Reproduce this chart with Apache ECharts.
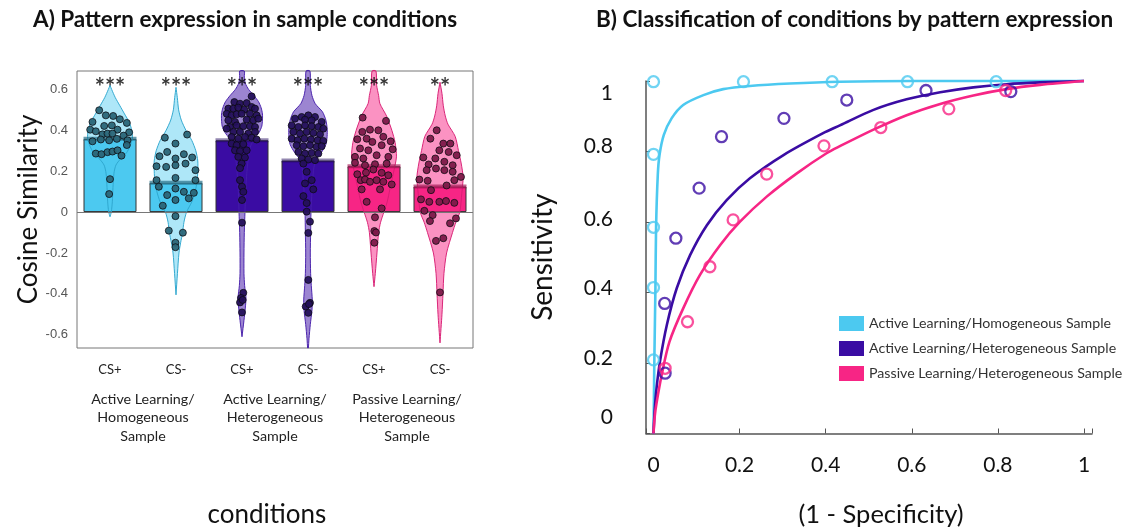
<!DOCTYPE html>
<html>
<head>
<meta charset="utf-8">
<script src="https://cdn.jsdelivr.net/npm/echarts@6/dist/echarts.min.js"></script>
<style>html,body{margin:0;padding:0;background:#fff;}#c{width:1137px;height:528px;}</style>
</head>
<body>
<div id="c"></div>
<script>
// ---------- Panel A data ----------
var conditionLabels = ['CS+', 'CS-', 'CS+', 'CS-', 'CS+', 'CS-'];
var groupLabels = ['Active Learning/\nHomogeneous\nSample', 'Active Learning/\nHeterogeneous\nSample', 'Passive Learning/\nHeterogeneous\nSample'];
var meanSimilarity = [0.358, 0.143, 0.351, 0.252, 0.224, 0.125];
var starLabels = ['***', '***', '***', '***', '***', '**'];
var yTickLabels = ['-0.6', '-0.4', '-0.2', '0', '0.2', '0.4', '0.6'];

// violin outlines: [cosine similarity, half width in category units]
var violin1 = [[0.62,0],[0.60,0.025],[0.56,0.08],[0.52,0.15],[0.48,0.22],[0.44,0.29],[0.40,0.33],[0.36,0.34],[0.32,0.30],[0.29,0.25],[0.26,0.16],[0.23,0.09],[0.19,0.06],[0.12,0.045],[0.05,0.035],[0,0.02],[-0.023,0]];
var violin2 = [[0.61,0],[0.56,0.02],[0.50,0.04],[0.45,0.08],[0.40,0.15],[0.35,0.24],[0.30,0.30],[0.25,0.33],[0.20,0.33],[0.15,0.32],[0.10,0.29],[0.05,0.24],[0,0.16],[-0.05,0.12],[-0.1,0.1],[-0.15,0.07],[-0.2,0.045],[-0.3,0.022],[-0.405,0]];
var violin3 = [[0.69,0.035],[0.66,0.035],[0.63,0.05],[0.60,0.10],[0.57,0.18],[0.54,0.25],[0.51,0.29],[0.48,0.31],[0.45,0.31],[0.42,0.30],[0.39,0.26],[0.36,0.19],[0.33,0.14],[0.30,0.11],[0.25,0.09],[0.20,0.075],[0.15,0.065],[0.10,0.055],[0.05,0.05],[0,0.045],[-0.1,0.035],[-0.2,0.03],[-0.3,0.03],[-0.36,0.04],[-0.42,0.06],[-0.47,0.05],[-0.53,0.03],[-0.61,0]];
var violin4 = [[0.69,0.03],[0.62,0.035],[0.57,0.06],[0.53,0.11],[0.49,0.22],[0.45,0.27],[0.41,0.29],[0.37,0.29],[0.33,0.27],[0.29,0.2],[0.26,0.13],[0.22,0.09],[0.15,0.07],[0.1,0.06],[0,0.045],[-0.1,0.04],[-0.2,0.035],[-0.3,0.04],[-0.36,0.05],[-0.43,0.065],[-0.48,0.06],[-0.55,0.035],[-0.62,0.015],[-0.665,0.005]];
var violin5 = [[0.69,0.03],[0.62,0.04],[0.57,0.07],[0.53,0.09],[0.47,0.19],[0.40,0.27],[0.34,0.32],[0.27,0.34],[0.20,0.30],[0.11,0.24],[0.05,0.2],[0,0.15],[-0.05,0.1],[-0.1,0.07],[-0.2,0.045],[-0.3,0.02],[-0.365,0]];
var violin6 = [[0.635,0],[0.58,0.03],[0.52,0.05],[0.47,0.08],[0.43,0.12],[0.37,0.23],[0.30,0.28],[0.24,0.32],[0.17,0.35],[0.09,0.33],[0,0.3],[-0.05,0.24],[-0.1,0.19],[-0.2,0.1],[-0.3,0.06],[-0.4,0.045],[-0.5,0.03],[-0.64,0]];

// individual subjects: [jitter offset in category units, cosine similarity]
var subjects1 = [[-0.164,0.498],[-0.265,0.441],[-0.063,0.473],[0.048,0.470],[0.149,0.454],[0.255,0.436],[-0.30,0.403],[-0.215,0.395],[-0.088,0.421],[0.028,0.424],[0.114,0.403],[0.29,0.390],[-0.114,0.380],[-0.038,0.384],[0.038,0.384],[0.205,0.374],[-0.265,0.346],[-0.139,0.355],[-0.013,0.351],[0.104,0.358],[0.265,0.351],[0.255,0.328],[-0.215,0.286],[-0.129,0.283],[-0.038,0.293],[0.038,0.296],[0.114,0.302],[0.174,0.276],[0.0,0.161],[-0.013,0.088]];
var subjects2 = [[-0.169,0.364],[0.169,0.379],[-0.008,0.335],[-0.134,0.294],[0.119,0.283],[0.245,0.267],[-0.25,0.273],[-0.295,0.224],[-0.149,0.221],[-0.008,0.229],[-0.008,0.262],[0.144,0.237],[0.295,0.205],[-0.295,0.156],[-0.008,0.167],[0.295,0.156],[-0.26,0.124],[-0.008,0.115],[0.119,0.099],[0.27,0.094],[-0.134,0.083],[-0.008,0.059],[0.194,0.067],[-0.2,0.031],[-0.008,-0.020],[-0.109,-0.091],[0.104,-0.101],[-0.008,-0.150],[-0.008,-0.172]];
var subjects3 = [[0.146,0.566],[-0.116,0.538],[-0.03,0.530],[0.071,0.533],[-0.207,0.506],[-0.131,0.506],[-0.056,0.511],[0.035,0.501],[0.146,0.514],[0.197,0.506],[-0.232,0.481],[-0.157,0.473],[-0.081,0.478],[-0.005,0.481],[0.121,0.481],[0.222,0.473],[-0.207,0.449],[-0.106,0.441],[0.071,0.452],[0.172,0.449],[0.247,0.457],[-0.182,0.416],[-0.081,0.424],[0.02,0.420],[0.121,0.420],[0.197,0.416],[-0.232,0.408],[-0.131,0.392],[-0.03,0.392],[0.096,0.384],[0.197,0.392],[-0.157,0.367],[-0.056,0.359],[0.045,0.367],[0.146,0.364],[0.222,0.355],[-0.157,0.335],[-0.081,0.327],[0.02,0.332],[-0.106,0.302],[-0.03,0.298],[0.071,0.302],[-0.056,0.270],[0.045,0.267],[-0.005,0.237],[-0.03,0.215],[-0.03,0.156],[0,0.124],[0.02,0.099],[0,0.059],[0,-0.052],[0.02,-0.395],[-0.015,-0.42],[-0.03,-0.442],[0.01,-0.43],[0,-0.491]];
var subjects4 = [[-0.197,0.457],[-0.096,0.465],[0.005,0.473],[0.106,0.465],[-0.045,0.452],[0.056,0.449],[0.207,0.441],[-0.247,0.424],[-0.146,0.416],[-0.045,0.424],[0.056,0.420],[0.157,0.416],[0.232,0.408],[-0.222,0.392],[-0.121,0.384],[-0.02,0.392],[0.081,0.387],[0.182,0.380],[-0.247,0.359],[-0.157,0.351],[-0.056,0.359],[0.045,0.355],[0.146,0.351],[0.232,0.348],[-0.172,0.327],[-0.071,0.322],[0.03,0.327],[0.131,0.319],[0.207,0.322],[-0.146,0.294],[-0.045,0.286],[0.056,0.289],[0.157,0.286],[-0.096,0.262],[0.005,0.257],[0.106,0.254],[-0.07,0.237],[-0.02,0.197],[0.056,0.156],[-0.045,0.14],[0.08,0.111],[-0.07,0.078],[-0.02,0.044],[-0.02,0.002],[0.03,-0.047],[0.005,-0.102],[0.005,-0.332],[0.03,-0.444],[-0.035,-0.462],[0.015,-0.45],[0.005,-0.493]];
var subjects5 = [[-0.172,0.462],[0.182,0.446],[-0.177,0.392],[-0.061,0.403],[0.066,0.400],[-0.253,0.356],[-0.111,0.359],[-0.025,0.343],[0.141,0.368],[0.253,0.346],[-0.212,0.311],[-0.086,0.302],[0.116,0.327],[0.283,0.307],[-0.288,0.270],[-0.162,0.262],[0.040,0.278],[0.217,0.270],[-0.288,0.241],[-0.136,0.229],[0.015,0.234],[0.192,0.237],[-0.253,0.185],[-0.121,0.193],[-0.010,0.208],[0.116,0.192],[0.217,0.180],[-0.202,0.156],[-0.136,0.159],[-0.061,0.148],[0.040,0.156],[0.141,0.148],[0.268,0.135],[-0.187,0.111],[0.091,0.111],[-0.111,0.050],[0.116,0.018],[0.015,-0.026],[0.005,-0.093],[0.03,-0.1],[0.005,-0.150]];
var subjects6 = [[-0.05,0.400],[-0.146,0.359],[0.05,0.335],[0.157,0.335],[-0.01,0.302],[0.131,0.294],[0.253,0.278],[-0.253,0.267],[-0.071,0.262],[-0.172,0.233],[0.066,0.246],[0.192,0.229],[-0.061,0.213],[-0.202,0.205],[0.066,0.205],[0.192,0.197],[0.318,0.172],[-0.313,0.159],[-0.187,0.153],[0.217,0.156],[-0.136,0.107],[0.1,0.13],[-0.288,0.062],[-0.162,0.050],[-0.01,0.050],[0.091,0.054],[0.217,0.045],[-0.237,0.006],[-0.111,-0.015],[-0.152,-0.044],[0.242,-0.031],[0.152,-0.055],[-0.061,-0.141],[0.05,-0.128],[0,-0.393]];

// ---------- Panel B data ----------
var rocNames = ['Active Learning/Homogeneous Sample', 'Active Learning/Heterogeneous Sample', 'Passive Learning/Heterogeneous Sample'];
var xTickLabels = ['0', '0.2', '0.4', '0.6', '0.8', '1'];
var yTickLabelsRoc = ['0', '0.2', '0.4', '0.6', '0.8', '1'];
// observed operating points [1 - specificity, sensitivity]
var rocPointsHomActive = [[0,0.998],[0,0.792],[0,0.585],[0,0.414],[0,0.209],[0.209,0.998],[0.415,0.998],[0.590,0.998],[0.796,0.998]];
var rocPointsHetActive = [[0.027,0.171],[0.026,0.369],[0.052,0.554],[0.106,0.696],[0.158,0.842],[0.303,0.894],[0.449,0.946],[0.633,0.973],[0.830,0.970]];
var rocPointsHetPassive = [[0.027,0.185],[0.079,0.317],[0.131,0.473],[0.185,0.606],[0.263,0.736],[0.396,0.816],[0.528,0.868],[0.686,0.921],[0.818,0.973]];
// fitted curves
var rocFitHomActive = [[0,0],[0.001,0.1],[0.002,0.209],[0.0045,0.414],[0.006,0.585],[0.01,0.734],[0.014,0.79],[0.024,0.847],[0.042,0.894],[0.069,0.932],[0.116,0.960],[0.162,0.977],[0.224,0.986],[0.317,0.993],[0.433,0.998],[0.6,1.0],[1.0,1.0]];
var rocFitHetActive = [[0,0],[0.003,0.07],[0.007,0.128],[0.015,0.204],[0.031,0.308],[0.054,0.412],[0.085,0.506],[0.124,0.591],[0.170,0.662],[0.224,0.724],[0.302,0.790],[0.394,0.852],[0.433,0.874],[0.511,0.918],[0.588,0.948],[0.666,0.968],[0.743,0.982],[0.820,0.991],[0.898,0.996],[1.0,1.0]];
var rocFitHetPassive = [[0,0],[0.003,0.05],[0.007,0.086],[0.019,0.166],[0.037,0.26],[0.069,0.355],[0.108,0.45],[0.155,0.535],[0.201,0.601],[0.263,0.672],[0.333,0.738],[0.402,0.795],[0.433,0.815],[0.511,0.862],[0.588,0.903],[0.666,0.935],[0.743,0.959],[0.820,0.977],[0.898,0.989],[1.0,1.0]];

// ---------- styling ----------
var barColors = ['#4CC9F0', '#4CC9F0', '#3A0CA3', '#3A0CA3', '#F72585', '#F72585'];
var violinFill = ['rgba(76,201,240,0.45)', 'rgba(76,201,240,0.45)', 'rgba(58,12,163,0.5)', 'rgba(58,12,163,0.5)', 'rgba(247,37,133,0.5)', 'rgba(247,37,133,0.5)'];
var violinStroke = ['rgba(45,165,205,0.95)', 'rgba(45,165,205,0.95)', 'rgba(70,30,170,0.95)', 'rgba(70,30,170,0.95)', 'rgba(215,30,115,0.95)', 'rgba(215,30,115,0.95)'];
var meanBandColors = ['rgba(35,110,135,0.85)', 'rgba(35,110,135,0.85)', 'rgba(30,5,90,0.6)', 'rgba(30,5,90,0.6)', 'rgba(160,15,80,0.8)', 'rgba(160,15,80,0.8)'];
var dotColors = ['#2A6577', '#2A6577', '#24105A', '#24105A', '#7C1A49', '#7C1A49'];
var rocColors = ['#4CC9F0', '#3A0CA3', '#F72585'];
// label nudges (px, u = up, d = down) that mimic the original's offset tick labels
var rocYLabelShift = ['u16', 'u5', 'u4', 'u3', 'u5', 'd12'];

var violins = [violin1, violin2, violin3, violin4, violin5, violin6];
var subjects = [subjects1, subjects2, subjects3, subjects4, subjects5, subjects6];
var rocPoints = [rocPointsHomActive, rocPointsHetActive, rocPointsHetPassive];
var rocFits = [rocFitHomActive, rocFitHetActive, rocFitHetPassive];

var FONT = 'Lato, "Open Sans", sans-serif';

var rich = {};
[3, 4, 5, 12, 16].forEach(function (s) {
  rich['u' + s] = {fontFamily: FONT, fontSize: 21, color: '#111', padding: [0, 0, 2 * s, 0]};
  rich['d' + s] = {fontFamily: FONT, fontSize: 21, color: '#111', padding: [2 * s, 0, 0, 0]};
});

var chart = echarts.init(document.getElementById('c'), null, {renderer: 'canvas'});

var series = [];
series.push({
  type: 'bar', xAxisIndex: 0, yAxisIndex: 0, barWidth: 53, z: 2,
  data: meanSimilarity.map(function (v, i) { return {value: v, itemStyle: {color: barColors[i]}}; }),
  itemStyle: {borderColor: '#333', borderWidth: 1},
  markLine: {silent: true, symbol: 'none', label: {show: false}, lineStyle: {color: '#777', width: 1, type: 'solid'}, data: [{yAxis: 0}]},
  animation: false
});
series.push({
  type: 'custom', xAxisIndex: 2, yAxisIndex: 0, z: 3,
  data: violins.map(function (v, i) { return [i]; }),
  renderItem: function (params, api) {
    var i = api.value(0);
    var prof = violins[i];
    var pts = [];
    for (var k = 0; k < prof.length; k++) pts.push(api.coord([i - prof[k][1], prof[k][0]]));
    for (var k2 = prof.length - 1; k2 >= 0; k2--) pts.push(api.coord([i + prof[k2][1], prof[k2][0]]));
    return {type: 'polygon', shape: {points: pts, smooth: 0.25}, style: {fill: violinFill[i], stroke: violinStroke[i], lineWidth: 1}};
  },
  animation: false
});
series.push({
  type: 'scatter', xAxisIndex: 0, yAxisIndex: 0, z: 4, symbol: 'rect', symbolSize: [53, 4],
  data: meanSimilarity.map(function (v, i) { return {value: [i, v], itemStyle: {color: meanBandColors[i]}}; }),
  animation: false
});
subjects.forEach(function (arr, i) {
  series.push({
    type: 'scatter', xAxisIndex: 2, yAxisIndex: 0, z: 5, symbolSize: 7,
    data: arr.map(function (p) { return [i + p[0], p[1]]; }),
    itemStyle: {color: dotColors[i], borderColor: '#0b0b10', borderWidth: 0.8, opacity: 0.95},
    animation: false
  });
});
series.push({
  type: 'scatter', xAxisIndex: 0, yAxisIndex: 0, z: 6, symbolSize: 0,
  data: starLabels.map(function (s, i) { return {value: [i, 0.605], label: {formatter: s}}; }),
  label: {show: true, position: 'inside', color: '#000', fontSize: 24, fontWeight: 'bold', fontFamily: 'Lato'},
  animation: false
});
rocFits.forEach(function (arr, i) {
  series.push({
    name: rocNames[i], type: 'line', xAxisIndex: 3, yAxisIndex: 1, data: arr, showSymbol: false,
    smooth: 0.3, clip: false,
    lineStyle: {color: rocColors[i], width: 2.6}, itemStyle: {color: rocColors[i]}, animation: false, z: 3
  });
});
rocPoints.forEach(function (arr, i) {
  series.push({
    name: rocNames[i], type: 'scatter', xAxisIndex: 3, yAxisIndex: 1, data: arr, symbol: 'circle', symbolSize: 11, clip: false,
    itemStyle: {color: 'rgba(255,255,255,0)', borderColor: rocColors[i], borderWidth: 2.3}, animation: false, z: 4
  });
});

var option = {
  backgroundColor: '#fff',
  animation: false,
  title: [
    {text: 'A) Pattern expression in sample conditions', left: 33, top: 8, padding: 0,
     textStyle: {fontFamily: FONT, fontSize: 22.5, fontWeight: 'bold', color: '#111'}},
    {text: 'B) Classification of conditions by pattern expression', left: 596, top: 8, padding: 0,
     textStyle: {fontFamily: FONT, fontSize: 22.5, fontWeight: 'bold', color: '#111'}}
  ],
  legend: {
    orient: 'vertical', left: 839, top: 316, itemWidth: 25, itemHeight: 15, itemGap: 10, padding: 0,
    selectedMode: false,
    textStyle: {fontFamily: FONT, fontSize: 14.2, color: '#333'},
    data: rocNames.map(function (n, i) { return {name: n, icon: 'rect', itemStyle: {color: rocColors[i], borderWidth: 0}}; })
  },
  grid: [
    {left: 77, top: 71, width: 396, height: 277, show: true, borderColor: '#777', borderWidth: 1, backgroundColor: 'transparent',
     containLabel: false, outerBoundsMode: 'none'},
    {left: 646, top: 81, width: 446, height: 352.5, containLabel: false, outerBoundsMode: 'none'}
  ],
  xAxis: [
    {type: 'category', gridIndex: 0, data: conditionLabels, boundaryGap: true,
     axisLine: {show: false}, axisTick: {show: false},
     axisLabel: {margin: 15, interval: 0, fontFamily: FONT, fontSize: 13, color: '#222'}},
    {type: 'category', gridIndex: 0, data: groupLabels, boundaryGap: true, position: 'bottom',
     axisLine: {show: false}, axisTick: {show: false},
     axisLabel: {margin: 42, interval: 0, hideOverlap: false, fontFamily: FONT, fontSize: 14.3, color: '#222', lineHeight: 18.5, verticalAlign: 'top'},
     name: 'conditions', nameLocation: 'middle', nameGap: 154,
     nameTextStyle: {fontFamily: FONT, fontSize: 26, color: '#111', padding: [0, 16, 0, 0]}},
    {type: 'value', gridIndex: 0, min: -0.5, max: 5.5, show: false},
    {type: 'value', gridIndex: 1, min: -0.0174, max: 1.0186, minInterval: 0.2, maxInterval: 0.2,
     splitLine: {show: false},
     axisLine: {show: true, onZero: false, lineStyle: {color: '#555', width: 1.5}},
     axisTick: {show: true, inside: true, length: 5, lineStyle: {color: '#555'}},
     axisLabel: {margin: 21, fontFamily: FONT, fontSize: 21, color: '#111',
       formatter: function (v) { var k = Math.round(v * 5); return Math.abs(v * 5 - k) < 1e-6 ? xTickLabels[k] : ''; }},
     name: '(1 - Specificity)', nameLocation: 'middle', nameGap: 68,
     nameTextStyle: {fontFamily: FONT, fontSize: 25.5, color: '#111', padding: [0, 0, 0, 24]}}
  ],
  yAxis: [
    {type: 'value', gridIndex: 0, min: -0.665, max: 0.69, minInterval: 0.2, maxInterval: 0.2,
     splitLine: {show: false}, axisLine: {show: false}, axisTick: {show: false},
     axisLabel: {margin: 9, fontFamily: '"Liberation Sans", Arial, sans-serif', fontSize: 13, color: '#555',
       formatter: function (v) { var k = Math.round(v * 5); return Math.abs(v * 5 - k) < 1e-6 ? yTickLabels[k + 3] : ''; }},
     name: 'Cosine Similarity', nameLocation: 'middle', nameGap: 30,
     nameTextStyle: {fontFamily: FONT, fontSize: 26, color: '#111'}},
    {type: 'value', gridIndex: 1, min: 0, max: 1, interval: 0.2,
     splitLine: {show: false},
     axisLine: {show: true, onZero: false, lineStyle: {color: '#555', width: 1.5}},
     axisTick: {show: true, inside: true, length: 4, lineStyle: {color: '#555'}},
     axisLabel: {margin: 33, fontFamily: FONT, fontSize: 21, color: '#111', rich: rich,
       formatter: function (v) { var k = Math.round(v * 5); return '{' + rocYLabelShift[k] + '|' + yTickLabelsRoc[k] + '}'; }},
     name: 'Sensitivity', nameLocation: 'middle', nameGap: 89,
     nameTextStyle: {fontFamily: FONT, fontSize: 28, color: '#111'}}
  ],
  series: series
};
chart.setOption(option);
</script>
</body>
</html>
